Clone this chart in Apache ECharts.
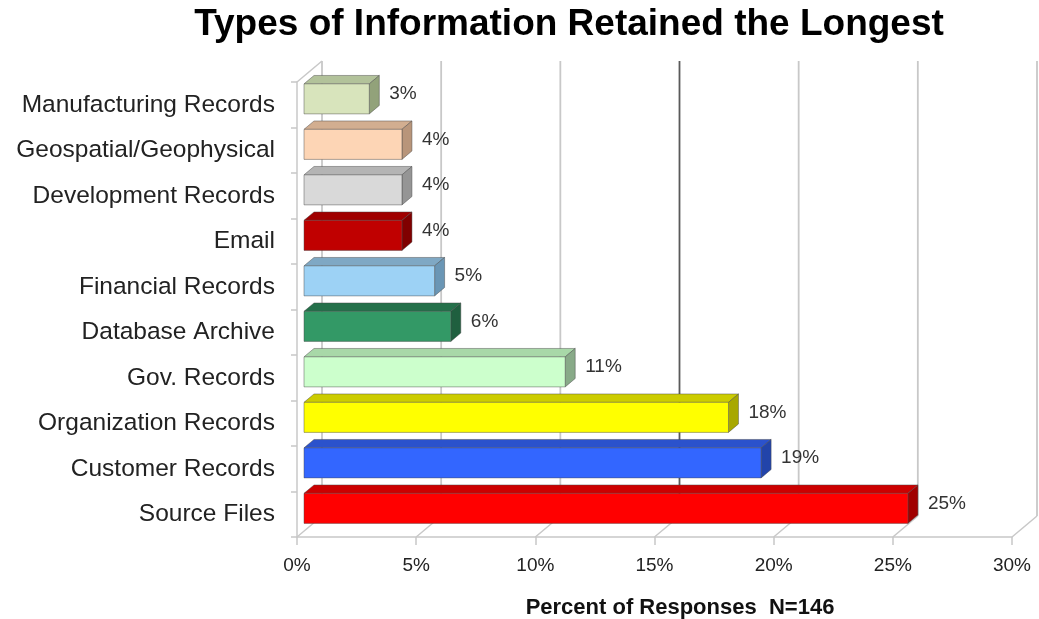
<!DOCTYPE html>
<html>
<head>
<meta charset="utf-8">
<title>Types of Information Retained the Longest</title>
<script src="https://cdn.jsdelivr.net/npm/echarts@6/dist/echarts.min.js"></script>
<style>
  html, body { margin: 0; padding: 0; background: #ffffff; }
  #chart { width: 1039px; height: 619px; }
</style>
</head>
<body>
<div id="chart"></div>
<script>
// Categories listed bottom to top (first entry sits on the floor of the chart)
const categories = [
  'Source Files',
  'Customer Records',
  'Organization Records',
  'Gov. Records',
  'Database Archive',
  'Financial Records',
  'Email',
  'Development Records',
  'Geospatial/Geophysical',
  'Manufacturing Records'
];

// Share of responses (percent, N=146)
const percentValues = [25.34, 19.18, 17.81, 10.96, 6.16, 5.48, 4.11, 4.11, 4.11, 2.74];

// Face colours of each 3D bar: front, top and right side
const frontColors = ['#ff0000', '#3366ff', '#ffff00', '#ccffcc', '#339966', '#9dd2f5', '#c00000', '#d9d9d9', '#fdd5b5', '#d8e4bc'];
const topColors   = ['#cc0000', '#2b52cc', '#cccc00', '#a8d8a8', '#24704a', '#7fa8c4', '#a00000', '#b4b4b4', '#d2ae90', '#b2c29a'];
const sideColors  = ['#a00000', '#2244aa', '#a8a800', '#88aa88', '#1f5f3f', '#6a96b5', '#800000', '#959595', '#b8957a', '#92a27a'];

// Value axis ticks
const xTicks = [0, 5, 10, 15, 20, 25, 30];

const FONT = '"Liberation Sans", Arial, Helvetica, sans-serif';

// Oblique projection of the chart depth
const DX = 25, DY = -21;
// Bars occupy this slice of the depth
const T0 = 0.28, T1 = 0.68;
const GRID_COLOR = '#c8c8c8';

function renderFrame(params, api) {
  const cs = params.coordSys;
  const top = cs.y, bottom = cs.y + cs.height, left = cs.x;
  const children = [];
  xTicks.forEach(function (v) {
    const x = api.coord([v, 0])[0];
    // back wall gridline
    children.push({
      type: 'line',
      shape: { x1: x + DX, y1: top + DY, x2: x + DX, y2: bottom + DY },
      style: { stroke: v === 15 ? '#5a5a5a' : GRID_COLOR, lineWidth: 1.8 }
    });
    // floor gridline
    children.push({
      type: 'line',
      shape: { x1: x, y1: bottom, x2: x + DX, y2: bottom + DY },
      style: { stroke: GRID_COLOR, lineWidth: 1.5 }
    });
  });
  // top edge of the side wall
  children.push({
    type: 'line',
    shape: { x1: left, y1: top, x2: left + DX, y2: top + DY },
    style: { stroke: GRID_COLOR, lineWidth: 1.5 }
  });
  return { type: 'group', children: children };
}

function renderBar(params, api) {
  const idx = api.value(0);
  const val = api.value(1);
  const base = api.coord([0, idx]);
  const end = api.coord([val, idx]);
  const band = api.size([0, 1])[1];
  const h = band * 0.66;
  const ox = DX * T0, oy = DY * T0;
  const bx = DX * (T1 - T0), by = DY * (T1 - T0);
  const x0 = base[0] + ox, x1 = end[0] + ox;
  const yT = base[1] - h / 2 + oy, yB = base[1] + h / 2 + oy;
  const stroke = 'rgba(70,70,70,0.45)';
  return {
    type: 'group',
    children: [
      {
        type: 'polygon',
        shape: { points: [[x0, yT], [x1, yT], [x1 + bx, yT + by], [x0 + bx, yT + by]] },
        style: { fill: topColors[idx], stroke: stroke, lineWidth: 1 }
      },
      {
        type: 'polygon',
        shape: { points: [[x1, yT], [x1 + bx, yT + by], [x1 + bx, yB + by], [x1, yB]] },
        style: { fill: sideColors[idx], stroke: stroke, lineWidth: 1 }
      },
      {
        type: 'rect',
        shape: { x: x0, y: yT, width: x1 - x0, height: h },
        style: { fill: frontColors[idx], stroke: stroke, lineWidth: 1 }
      },
      {
        type: 'text',
        style: {
          text: Math.round(val) + '%',
          x: x1 + bx + 10,
          y: base[1] + DY * 0.5,
          textAlign: 'left',
          textVerticalAlign: 'middle',
          font: '19px ' + FONT,
          fill: '#333333'
        }
      }
    ]
  };
}

const chart = echarts.init(document.getElementById('chart'), null, { renderer: 'canvas' });

chart.setOption({
  animation: false,
  backgroundColor: '#ffffff',
  grid: { left: 297, right: 27, top: 82, bottom: 82, containLabel: false },
  xAxis: {
    type: 'value',
    min: 0,
    max: 30,
    interval: 5,
    axisLine: { show: true, lineStyle: { color: GRID_COLOR, width: 1.5 } },
    axisTick: { show: true, length: 8, lineStyle: { color: GRID_COLOR, width: 1.5 } },
    splitLine: { show: false },
    axisLabel: {
      margin: 19,
      fontFamily: FONT,
      fontSize: 19,
      color: '#222222',
      formatter: function (v) { return v + '%'; }
    }
  },
  yAxis: {
    type: 'category',
    data: categories,
    axisLine: { show: true, lineStyle: { color: GRID_COLOR, width: 1.5 } },
    axisTick: { show: true, length: 6, lineStyle: { color: GRID_COLOR, width: 1.5 } },
    splitLine: { show: false },
    axisLabel: {
      margin: 22,
      fontFamily: FONT,
      fontSize: 24.5,
      color: '#222222'
    }
  },
  graphic: [
    {
      type: 'text',
      style: {
        text: 'Types of Information Retained the Longest',
        x: 569,
        y: 25,
        textAlign: 'center',
        textVerticalAlign: 'middle',
        font: 'bold 37px ' + FONT,
        fill: '#000000'
      }
    },
    {
      type: 'text',
      style: {
        text: 'Percent of Responses  N=146',
        x: 680,
        y: 608,
        textAlign: 'center',
        textVerticalAlign: 'middle',
        font: 'bold 22px ' + FONT,
        fill: '#111111'
      }
    }
  ],
  series: [
    {
      type: 'custom',
      name: 'frame',
      z: 1,
      silent: true,
      clip: false,
      renderItem: renderFrame,
      encode: { x: 0, y: 1 },
      data: [[0, 0]]
    },
    {
      type: 'custom',
      name: 'Percent of Responses',
      z: 3,
      clip: false,
      renderItem: renderBar,
      encode: { x: 1, y: 0 },
      data: categories.map(function (c, i) { return [i, percentValues[i]]; })
    }
  ]
});
</script>
</body>
</html>
